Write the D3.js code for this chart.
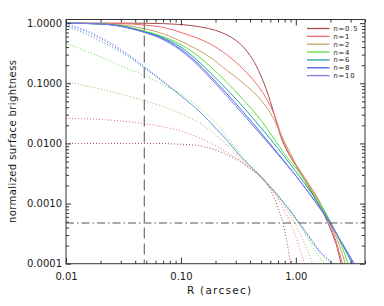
<!DOCTYPE html>
<html>
<head>
<meta charset="utf-8">
<script src="https://cdn.jsdelivr.net/npm/d3@7"></script>
<style>
  body { margin: 0; background: #fff; }
  text { font-family: "DejaVu Sans", "Liberation Sans", Arial, sans-serif; fill: #1a1a1a; }
</style>
</head>
<body>
<div id="chart"></div>
<script>
// SVG size and plot box
var svgWidth = 384;
var svgHeight = 306;
var box = { left: 66, top: 19.5, right: 365, bottom: 263.7 };

// Legend labels, one per Sersic index
var legendLabels = ["n=0.5", "n=1", "n=2", "n=4", "n=6", "n=8", "n=10"];
var lineColors = ["#a44c4c", "#f06a6a", "#c9a066", "#5ee03a", "#1fa3a0", "#4262f0", "#7c7ce6"];

// Solid curves: [R (arcsec), normalized surface brightness]
var solidN05 = [[0.01,1.0],[0.03,1.0],[0.05,0.995],[0.1,0.95],[0.15,0.86],[0.2,0.76],[0.25,0.64],[0.3,0.52],[0.35,0.4],[0.4,0.29],[0.45,0.2],[0.5,0.13],[0.55,0.082],[0.6,0.05],[0.65,0.03],[0.74,0.013],[0.85,0.0072],[1.0,0.0043],[1.2,0.0024],[1.5,0.00115],[1.8,0.0006],[2.1,0.0003],[2.3,0.00018],[2.47,0.0001]];
var solidN1 = [[0.01,1.0],[0.03,0.985],[0.048,0.93],[0.066,0.87],[0.1,0.7],[0.13,0.59],[0.18,0.45],[0.25,0.3],[0.35,0.17],[0.45,0.1],[0.55,0.057],[0.65,0.03],[0.76,0.0125],[0.85,0.0075],[1.0,0.0045],[1.3,0.0021],[1.6,0.0011],[1.9,0.00055],[2.2,0.00026],[2.55,0.0001]];
var solidN2 = [[0.01,1.0],[0.02,0.98],[0.03,0.94],[0.048,0.81],[0.066,0.69],[0.1,0.5],[0.13,0.39],[0.18,0.27],[0.25,0.165],[0.35,0.1],[0.5,0.052],[0.6,0.032],[0.7,0.018],[0.78,0.0114],[0.9,0.0068],[1.0,0.0045],[1.4,0.0016],[2.0,0.00047],[2.4,0.0002],[2.7,0.0001]];
var solidN4 = [[0.01,1.0],[0.02,0.97],[0.03,0.91],[0.048,0.74],[0.066,0.62],[0.1,0.44],[0.13,0.32],[0.18,0.19],[0.25,0.105],[0.35,0.053],[0.5,0.024],[0.65,0.0118],[0.8,0.0066],[1.0,0.0039],[1.4,0.00155],[2.0,0.0005],[2.5,0.0002],[2.84,0.0001]];
var solidN6 = [[0.01,1.0],[0.02,0.97],[0.03,0.9],[0.048,0.72],[0.066,0.6],[0.1,0.4],[0.13,0.27],[0.18,0.15],[0.25,0.08],[0.35,0.04],[0.5,0.018],[0.7,0.0082],[1.0,0.0034],[1.4,0.0014],[2.0,0.00048],[2.6,0.00019],[3.1,0.0001]];
var solidN8 = [[0.01,1.0],[0.02,0.97],[0.03,0.89],[0.048,0.71],[0.066,0.58],[0.1,0.37],[0.13,0.245],[0.18,0.132],[0.25,0.068],[0.35,0.033],[0.5,0.0148],[0.7,0.0068],[1.0,0.0029],[1.4,0.00123],[2.0,0.00046],[2.6,0.0002],[3.2,0.0001]];
var solidN10 = [[0.01,1.0],[0.02,0.97],[0.03,0.88],[0.048,0.7],[0.066,0.56],[0.1,0.35],[0.13,0.23],[0.18,0.122],[0.25,0.062],[0.35,0.03],[0.5,0.0138],[0.7,0.0065],[1.0,0.0029],[1.4,0.00125],[2.0,0.00047],[2.6,0.0002],[3.23,0.0001]];

// Dotted curves: [R (arcsec), normalized surface brightness]
var dottedN05 = [[0.01,0.01],[0.05,0.01],[0.1,0.0097],[0.15,0.009],[0.2,0.0078],[0.25,0.0065],[0.3,0.0055],[0.4,0.0038],[0.5,0.0027],[0.6,0.0017],[0.7,0.00085],[0.8,0.00036],[0.9,0.0001]];
var dottedN1 = [[0.01,0.026],[0.02,0.025],[0.05,0.021],[0.1,0.016],[0.15,0.012],[0.2,0.0092],[0.25,0.0072],[0.3,0.0058],[0.4,0.0039],[0.5,0.0027],[0.6,0.0018],[0.7,0.0012],[0.8,0.00075],[0.9,0.00046],[1.0,0.00028],[1.1,0.00016],[1.19,0.0001]];
var dottedN2 = [[0.01,0.107],[0.02,0.08],[0.03,0.066],[0.05,0.05],[0.07,0.041],[0.1,0.031],[0.15,0.021],[0.2,0.014],[0.25,0.0095],[0.3,0.0066],[0.4,0.004],[0.5,0.0027],[0.6,0.0018],[0.7,0.0013],[0.8,0.0009],[0.9,0.00063],[1.0,0.00044],[1.2,0.00021],[1.4,0.0001]];
var dottedN4 = [[0.01,0.46],[0.015,0.34],[0.02,0.275],[0.03,0.195],[0.05,0.13],[0.07,0.095],[0.1,0.066],[0.15,0.037],[0.2,0.022],[0.25,0.0135],[0.3,0.0082],[0.4,0.0044],[0.5,0.0028],[0.6,0.0019],[0.7,0.00135],[0.8,0.00096],[0.9,0.00072],[1.0,0.00054],[1.2,0.00032],[1.4,0.00019],[1.6,0.00013],[1.78,0.0001]];
var dottedN6 = [[0.01,0.88],[0.015,0.66],[0.02,0.5],[0.03,0.33],[0.05,0.17],[0.07,0.105],[0.1,0.062],[0.15,0.032],[0.2,0.018],[0.25,0.0115],[0.3,0.0075],[0.4,0.0042],[0.5,0.0028],[0.6,0.0019],[0.7,0.00135],[0.8,0.00098],[0.9,0.00074],[1.0,0.00056],[1.2,0.00034],[1.4,0.00022],[1.6,0.00016],[1.8,0.000125],[2.05,0.0001]];
var dottedN8 = [[0.01,0.93],[0.015,0.72],[0.02,0.55],[0.03,0.35],[0.05,0.175],[0.07,0.107],[0.1,0.062],[0.15,0.032],[0.2,0.018],[0.25,0.0115],[0.3,0.0075],[0.4,0.0042],[0.5,0.0028],[0.6,0.0019],[0.7,0.00136],[0.8,0.00099],[0.9,0.00075],[1.0,0.00057],[1.2,0.00035],[1.4,0.00023],[1.6,0.00016],[1.9,0.00012],[2.1,0.0001]];
var dottedN10 = [[0.01,0.96],[0.015,0.76],[0.02,0.58],[0.03,0.37],[0.05,0.18],[0.07,0.108],[0.1,0.062],[0.15,0.032],[0.2,0.018],[0.25,0.0115],[0.3,0.0075],[0.4,0.0042],[0.5,0.0028],[0.6,0.0019],[0.7,0.00137],[0.8,0.001],[0.9,0.00076],[1.0,0.00058],[1.2,0.00036],[1.4,0.00024],[1.6,0.00017],[1.9,0.00012],[2.15,0.0001]];

var solidSeries = [solidN05, solidN1, solidN2, solidN4, solidN6, solidN8, solidN10];
var dottedSeries = [dottedN05, dottedN1, dottedN2, dottedN4, dottedN6, dottedN8, dottedN10];

// Axis ticks
var xTickValues = [0.01, 0.1, 1];
var xTickLabels = ["0.01", "0.10", "1.00"];
var yTickValues = [0.0001, 0.001, 0.01, 0.1, 1];
var yTickLabels = ["0.0001", "0.0010", "0.0100", "0.1000", "1.0000"];

// Reference lines
var rLimit = 0.048;
var iLimit = 0.000475;

var svg = d3.select("#chart")
    .append("svg")
    .attr("width", svgWidth)
    .attr("height", svgHeight);

svg.append("rect")
    .attr("width", svgWidth)
    .attr("height", svgHeight)
    .attr("fill", "#fff");

// Log scales
var xScale = d3.scaleLog().domain([0.01, 4]).range([box.left, box.right]);
var yScale = d3.scaleLog().domain([0.0001, 1.15]).range([box.bottom, box.top]);

// Minor tick positions (2..9 in each decade)
var xMinor = [];
[0.01, 0.1, 1].forEach(function(d) {
    for (var m = 2; m <= 9; m++) { if (d * m <= 4) xMinor.push(d * m); }
});
var yMinor = [];
[0.0001, 0.001, 0.01, 0.1].forEach(function(d) {
    for (var m = 2; m <= 9; m++) yMinor.push(d * m);
});

svg.append("clipPath").attr("id", "plotClip")
    .append("rect")
    .attr("x", box.left).attr("y", box.top)
    .attr("width", box.right - box.left)
    .attr("height", box.bottom - box.top);

var plot = svg.append("g").attr("clip-path", "url(#plotClip)");

var line = d3.line()
    .x(function(d) { return xScale(d[0]); })
    .y(function(d) { return yScale(d[1]); })
    .curve(d3.curveMonotoneX);

// Dotted curves
plot.selectAll(".dotted")
    .data(dottedSeries)
    .enter()
    .append("path")
    .attr("class", "dotted")
    .attr("d", line)
    .attr("fill", "none")
    .attr("stroke", function(d, i) { return lineColors[i]; })
    .attr("stroke-width", 1)
    .attr("stroke-dasharray", "1,2");

// Solid curves
plot.selectAll(".solid")
    .data(solidSeries)
    .enter()
    .append("path")
    .attr("class", "solid")
    .attr("d", line)
    .attr("fill", "none")
    .attr("stroke", function(d, i) { return lineColors[i]; })
    .attr("stroke-width", 1);

// Dashed vertical and dash-dot horizontal lines
plot.append("line")
    .attr("x1", xScale(rLimit)).attr("x2", xScale(rLimit))
    .attr("y1", box.top).attr("y2", box.bottom)
    .attr("stroke", "#555")
    .attr("stroke-width", 1)
    .attr("stroke-dasharray", "11,5");

plot.append("line")
    .attr("x1", box.left).attr("x2", box.right)
    .attr("y1", yScale(iLimit)).attr("y2", yScale(iLimit))
    .attr("stroke", "#555")
    .attr("stroke-width", 1)
    .attr("stroke-dasharray", "8,3,1.5,3");

// Axes: ticks point inward on all four sides
function drawAxis(axis, tx, ty, labels) {
    var g = svg.append("g")
        .attr("transform", "translate(" + tx + "," + ty + ")")
        .call(axis);
    g.select(".domain").remove();
    g.selectAll("line").attr("stroke", "#333");
    g.selectAll("text")
        .style("font-size", "10px")
        .style("font-family", '"DejaVu Sans", "Liberation Sans", Arial, sans-serif')
        .attr("fill", "#1a1a1a");
    if (!labels) g.selectAll("text").remove();
    return g;
}

drawAxis(d3.axisBottom(xScale).tickValues(xTickValues).tickSize(-6).tickPadding(9)
    .tickFormat(function(d, i) { return xTickLabels[i]; }), 0, box.bottom, true);
drawAxis(d3.axisBottom(xScale).tickValues(xMinor).tickSize(-3).tickFormat(""), 0, box.bottom, false);
drawAxis(d3.axisTop(xScale).tickValues(xTickValues).tickSize(-6).tickFormat(""), 0, box.top, false);
drawAxis(d3.axisTop(xScale).tickValues(xMinor).tickSize(-3).tickFormat(""), 0, box.top, false);

drawAxis(d3.axisLeft(yScale).tickValues(yTickValues).tickSize(-5).tickPadding(4)
    .tickFormat(function(d, i) { return yTickLabels[i]; }), box.left, 0, true);
drawAxis(d3.axisLeft(yScale).tickValues(yMinor).tickSize(-3).tickFormat(""), box.left, 0, false);
drawAxis(d3.axisRight(yScale).tickValues(yTickValues).tickSize(-5).tickFormat(""), box.right, 0, false);
drawAxis(d3.axisRight(yScale).tickValues(yMinor).tickSize(-3).tickFormat(""), box.right, 0, false);

// Frame
svg.append("rect")
    .attr("x", box.left).attr("y", box.top)
    .attr("width", box.right - box.left)
    .attr("height", box.bottom - box.top)
    .attr("fill", "none")
    .attr("stroke", "#333")
    .attr("stroke-width", 1);

// Axis titles
svg.append("text")
    .attr("x", 187)
    .attr("y", 294)
    .attr("textLength", 64)
    .attr("lengthAdjust", "spacing")
    .style("font-size", "10.5px")
    .text("R (arcsec)");

svg.append("text")
    .attr("transform", "translate(15.5,223) rotate(-90)")
    .attr("textLength", 163)
    .attr("lengthAdjust", "spacing")
    .style("font-size", "10px")
    .text("normalized surface brightness");

// Legend
var legend = svg.append("g");
var legendRows = legend.selectAll("g")
    .data(legendLabels)
    .enter()
    .append("g")
    .attr("transform", function(d, i) { return "translate(0," + (28.5 + i * 7.85) + ")"; });

legendRows.append("line")
    .attr("x1", 307).attr("x2", 329.5)
    .attr("y1", 0).attr("y2", 0)
    .attr("stroke", function(d, i) { return lineColors[i]; })
    .attr("stroke-width", 1.3);

legendRows.append("text")
    .attr("x", 333.5)
    .attr("dy", "0.36em")
    .style("font-size", "6.8px")
    .style("letter-spacing", "0.8px")
    .text(function(d) { return d; });
</script>
</body>
</html>
